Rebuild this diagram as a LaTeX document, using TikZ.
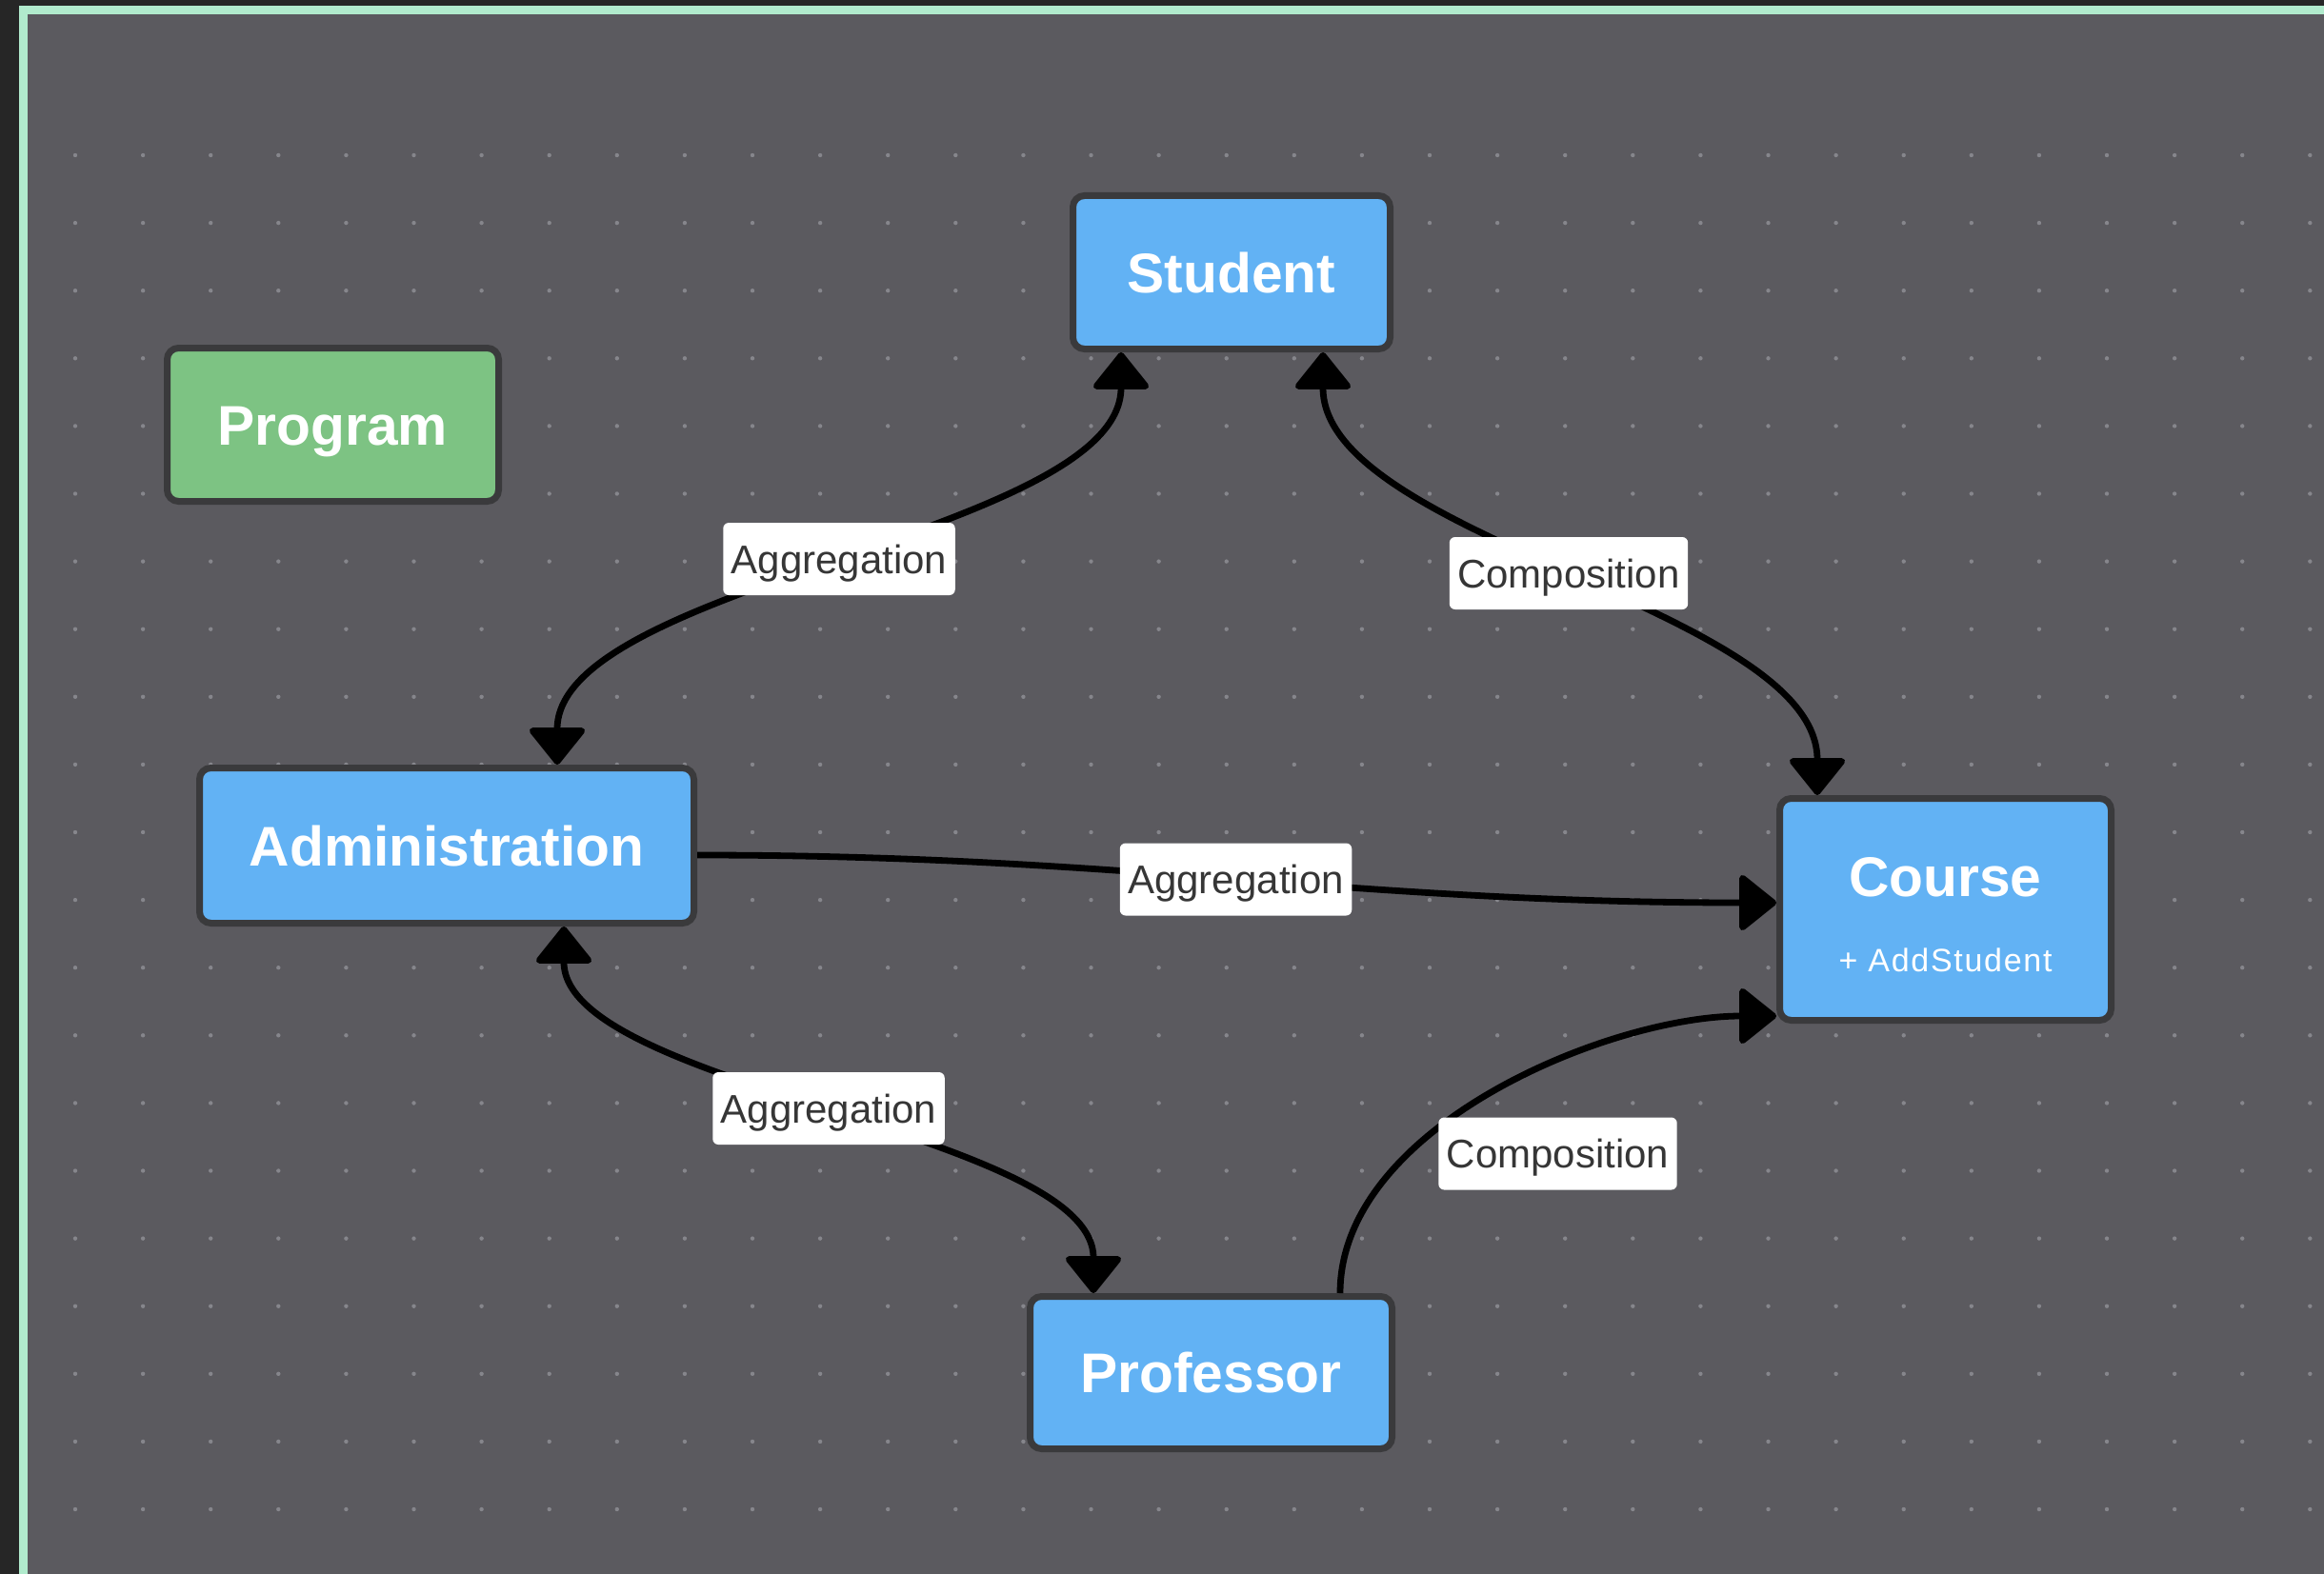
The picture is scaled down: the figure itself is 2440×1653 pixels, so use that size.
\documentclass[tikz,border=0pt]{standalone}
\usepackage{fontspec}
\setmainfont{Liberation Sans}
\usetikzlibrary{arrows.meta}
\definecolor{darkbg}{HTML}{262626}
\definecolor{mint}{HTML}{B1EBCD}
\definecolor{canvasc}{HTML}{5B5A5F}
\definecolor{dotc}{HTML}{86868C}
\definecolor{bluefill}{HTML}{62B2F4}
\definecolor{greenfill}{HTML}{7DC383}
\definecolor{boxborder}{HTML}{3A3A3C}
\definecolor{labeltext}{HTML}{363636}
\tikzset{
  box/.style={draw=boxborder, line width=7pt, rounded corners=12pt, fill=bluefill,
    inner sep=0pt, text=white, font=\fontsize{58.7}{60}\selectfont\bfseries,
    text height=42pt, text depth=0pt},
  greenbox/.style={box, fill=greenfill},
  conn/.style={draw=black, line width=6.8pt},
  lbl/.style={fill=white, rounded corners=6pt, text=labeltext,
    font=\fontsize{42}{44}\selectfont, text height=30pt, text depth=0pt,
    minimum height=76pt, inner xsep=8.5pt, inner ysep=0pt},
  subtxt/.style={text=white, inner sep=0pt, font=\fontsize{34}{36}\selectfont\addfontfeature{LetterSpace=5},
    text height=24pt, text depth=0pt},
  titletxt/.style={text=white, inner sep=0pt, font=\fontsize{58.7}{60}\selectfont\bfseries,
    text height=42pt, text depth=0pt}
}
\begin{document}
\begin{tikzpicture}[x=1pt, y=-1pt, >={Triangle[length=41pt,width=64pt,round]}]
\useasboundingbox (0,0) rectangle (2440,1653);
\fill[darkbg] (0,0) rectangle (2440,1653);
\fill[mint] (20,6) rectangle (2440,1653);
\fill[canvasc] (29,15) rectangle (2440,1653);
\foreach \i in {0,...,33} {
  \foreach \j in {0,...,20} {
    \fill[dotc] ({79+71.1*\i},{163+71.1*\j}) circle[radius=2.2pt];
  }
}
% nodes
\node[greenbox, minimum width=348pt, minimum height=161pt] (prog) at (349.5,446) {Program};
\node[box, minimum width=333pt, minimum height=161pt] (stu) at (1293,286) {Student};
\node[box, minimum width=519pt, minimum height=163pt] (adm) at (469,888) {Administration};
\node[box, minimum width=348pt, minimum height=233pt] (course) at (2042.5,955) {};
\node[titletxt] (coursetitle) at (2042.5,920) {Course};
\node[subtxt] (coursesub) at (2042.5,1008) {+ AddStudent};
\node[box, minimum width=380pt, minimum height=160pt] (prof) at (1271.5,1441.5) {Professor};
% connectors
\draw[conn, <->] ([xshift=116pt]adm.north) .. controls +(0,-190) and +(0,190) .. ([xshift=-116pt]stu.south);
\draw[conn, <->] ([xshift=96pt]stu.south) .. controls +(0,195) and +(0,-195) .. ([xshift=-134.5pt]course.north);
\draw[conn, ->] ([yshift=-10pt]adm.east) .. controls +(450,0) and +(-450,0) .. ([yshift=7pt]course.west);
\draw[conn, <->] ([xshift=123pt]adm.south) .. controls +(0,168) and +(0,-168) .. ([xshift=-123.5pt]prof.north);
\draw[conn, ->] ([xshift=135.5pt]prof.north) .. controls +(0,-175) and +(-175,0) .. ([yshift=-112pt]course.west);
% labels
\node[lbl] (l1) at (881,587) {Aggregation};
\node[lbl] (l2) at (1647,602) {Composition};
\node[lbl] (l3) at (1297.5,923.5) {Aggregation};
\node[lbl] (l4) at (870,1164) {Aggregation};
\node[lbl] (l5) at (1635.5,1211.5) {Composition};
\end{tikzpicture}
\end{document}
